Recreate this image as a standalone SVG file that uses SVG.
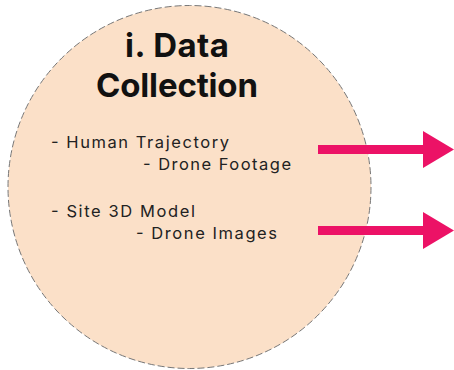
<svg xmlns="http://www.w3.org/2000/svg" width="454" height="370" viewBox="0 0 454 370">
<style>
.title{font-family:Inter,"Liberation Sans",sans-serif;font-weight:700;font-size:33px;fill:#111;text-anchor:middle}
.item{font-family:Inter,"Liberation Sans",sans-serif;font-weight:400;font-size:16.5px;fill:#222}
.arrow{fill:#EC1266}
</style>
<g id="node-data-collection">
<circle cx="189.5" cy="187" r="181.5" fill="#FBE0C8" stroke="#777" stroke-width="1" stroke-dasharray="7,3"/>
<text class="title" x="177" y="57" textLength="104">i. Data</text>
<text class="title" x="177" y="97" textLength="162">Collection</text>
<text class="item" x="51" y="148" textLength="178">- Human Trajectory</text>
<text class="item" x="143" y="170" textLength="148">- Drone Footage</text>
<text class="item" x="51" y="217" textLength="144">- Site 3D Model</text>
<text class="item" x="136" y="239" textLength="141">- Drone Images</text>
</g>
<g id="connectors">
<path class="arrow" d="M318,145 H423 V131 L454,149.5 L423,168 V154 H318 Z"/>
<path class="arrow" d="M318,226 H423 V212 L454,230.5 L423,249 V235 H318 Z"/>
</g>
</svg>
